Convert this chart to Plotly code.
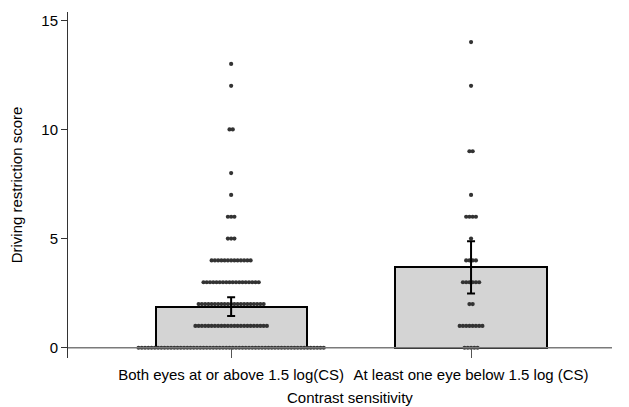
import plotly.graph_objects as go

# ---- data ----
categories = ["Both eyes at or above 1.5 log(CS)", "At least one eye below 1.5 log (CS)"]
bar_means = [1.88, 3.68]
bar_ci = [0.43, 1.20]

g1_scores = [0, 1, 2, 3, 4, 5, 6, 7, 8, 10, 12, 13]
g1_counts = [58, 23, 21, 18, 13, 3, 3, 1, 1, 2, 1, 1]

g2_scores = [0, 1, 2, 3, 4, 5, 6, 7, 9, 12, 14]
g2_counts = [5, 8, 2, 6, 4, 1, 4, 1, 2, 1, 1]

x_title = "Contrast sensitivity"
y_title = "Driving restriction score"

# ---- layout constants ----
cat_pos = [0, 1]
dot_step = 0.01354  # horizontal spacing between stacked dots (x units)
FONT = "Liberation Sans, Arial, sans-serif"


def swarm(center, scores, counts):
    xs, ys = [], []
    for s, c in zip(scores, counts):
        for i in range(c):
            xs.append(center + (i - (c - 1) / 2) * dot_step)
            ys.append(s)
    return xs, ys


fig = go.Figure()

fig.add_trace(go.Bar(
    x=cat_pos, y=bar_means, width=0.63,
    marker=dict(color="#d4d4d4", line=dict(color="black", width=2)),
    showlegend=False, hoverinfo="skip",
))

# zero line
fig.add_shape(type="line", xref="x", yref="y", x0=-0.68, x1=1.5875, y0=0, y1=0,
              line=dict(color="#7a7a7a", width=1.5), layer="above")

for c, sc, cn in [(cat_pos[0], g1_scores, g1_counts), (cat_pos[1], g2_scores, g2_counts)]:
    xs, ys = swarm(c, sc, cn)
    fig.add_trace(go.Scatter(
        x=xs, y=ys, mode="markers",
        marker=dict(color="#333333", size=4.2, line=dict(width=0)),
        showlegend=False, hoverinfo="skip", cliponaxis=False,
    ))

fig.add_trace(go.Scatter(
    x=cat_pos, y=bar_means, mode="markers",
    marker=dict(size=1, color="rgba(0,0,0,0)"),
    error_y=dict(type="data", array=bar_ci, color="black", thickness=2, width=4),
    showlegend=False, hoverinfo="skip",
))

fig.update_layout(
    width=629, height=407,
    margin=dict(l=60, r=25, t=4, b=57),
    paper_bgcolor="white", plot_bgcolor="white",
    font=dict(family=FONT, color="black", size=15),
    bargap=0,
)

fig.add_annotation(
    text=x_title, xref="paper", yref="paper", x=0.518, y=-0.1156,
    xanchor="center", yanchor="middle", showarrow=False,
    font=dict(size=15, color="black", family=FONT),
)

fig.update_xaxes(
    range=[-0.68, 1.5875], tickvals=cat_pos, ticktext=categories,
    showline=False, showgrid=False, zeroline=False, automargin=False,
    ticks="inside", ticklen=9, tickcolor="#555555", tickwidth=1.2,
    ticklabelstandoff=6, tickfont=dict(size=15, color="black", family=FONT),
)

fig.update_yaxes(
    range=[-0.47, 15.38], tickvals=[0, 5, 10, 15],
    showline=True, linecolor="#333333", linewidth=1,
    showgrid=False, zeroline=False, automargin=False,
    ticks="outside", ticklen=6, tickcolor="#333333", tickwidth=1,
    tickfont=dict(size=15, color="black", family=FONT),
    title=dict(text=y_title, font=dict(size=15, color="black", family=FONT), standoff=15),
)

fig.write_html("out.html")
